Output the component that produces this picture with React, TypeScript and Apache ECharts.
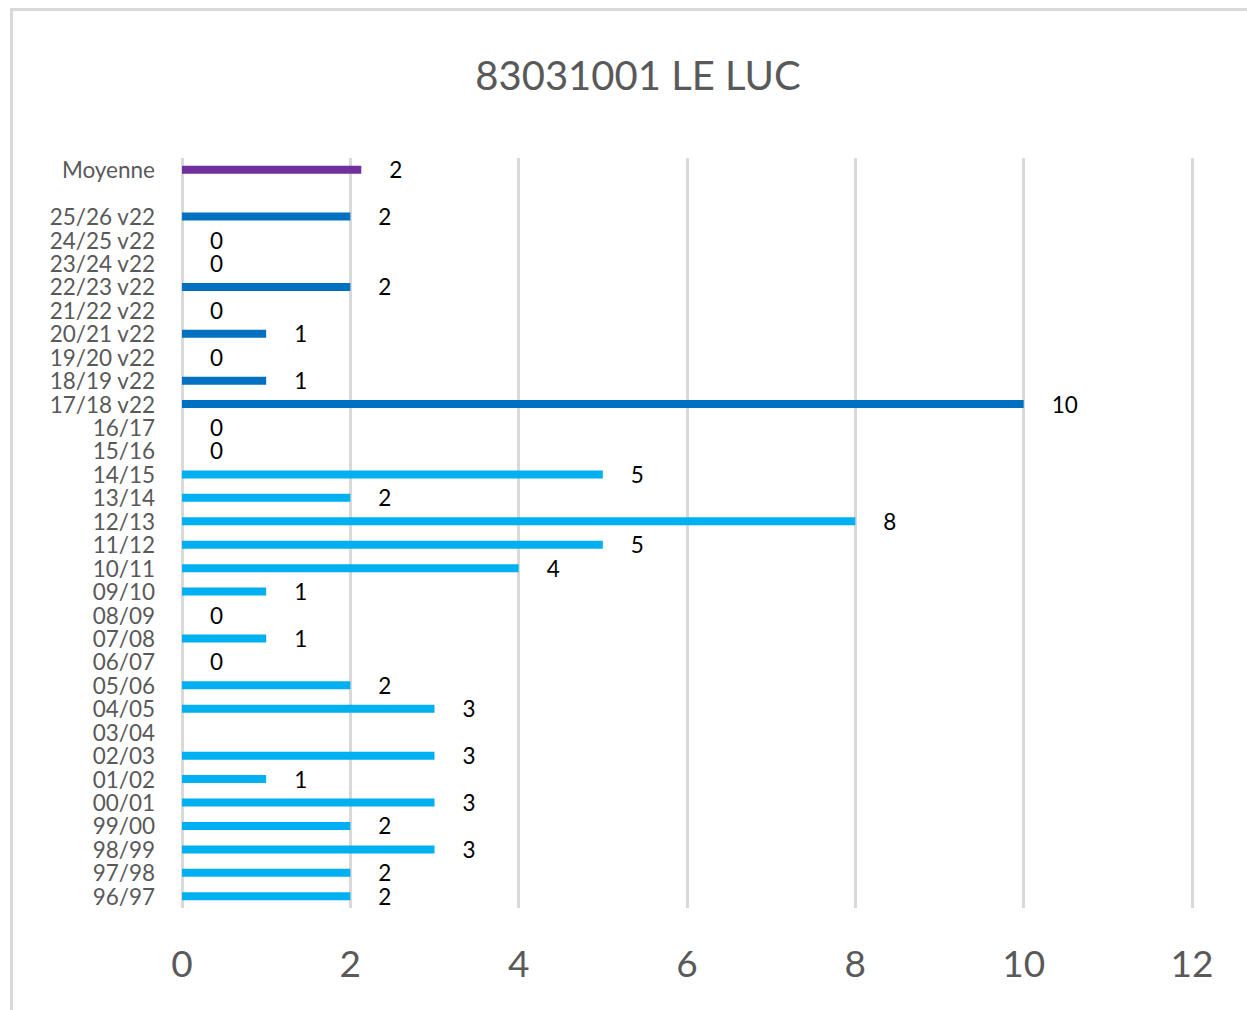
import React, { useEffect, useRef } from "react";
import * as echarts from "echarts";

const categories = [
  "96/97", "97/98", "98/99", "99/00", "00/01", "01/02", "02/03", "03/04", "04/05", "05/06",
  "06/07", "07/08", "08/09", "09/10", "10/11", "11/12", "12/13", "13/14", "14/15", "15/16",
  "16/17", "17/18 v22", "18/19 v22", "19/20 v22", "20/21 v22", "21/22 v22", "22/23 v22",
  "23/24 v22", "24/25 v22", "25/26 v22", "", "Moyenne",
];
const values: (number | null)[] = [
  2, 2, 3, 2, 3, 1, 3, null, 3, 2,
  0, 1, 0, 1, 4, 5, 8, 2, 5, 0,
  0, 10, 1, 0, 1, 0, 2, 0, 0, 2, null, 2.13,
];
// group of each bar: "old" seasons, "v22" seasons, "avg"
const groups = categories.map((c) => (c === "Moyenne" ? "avg" : c.includes("v22") ? "v22" : "old"));
const groupColors: Record<string, string> = { old: "#00b0f0", v22: "#0070c0", avg: "#7030a0" };
const xTicks = [0, 2, 4, 6, 8, 10, 12];

export default function App() {
  const ref = useRef<HTMLDivElement>(null);
  useEffect(() => {
    if (!ref.current) return;
    const chart = echarts.init(ref.current, null, { renderer: "svg" });
    const font = "Lato, 'Open Sans', sans-serif";
    chart.setOption({
      animation: false,
      backgroundColor: "#ffffff",
      title: {
        text: "83031001 LE LUC",
        left: 633,
        textAlign: "center",
        top: 50,
        textStyle: { fontFamily: font, fontSize: 40, fontWeight: "normal", color: "#595959" },
      },
      graphic: [
        {
          type: "rect",
          shape: { x: 11.5, y: 9.5, width: 1300, height: 1100 },
          style: { fill: "none", stroke: "#d9d9d9", lineWidth: 3 },
          silent: true,
        },
      ],
      grid: { left: 182, right: 55, top: 158, bottom: 102, containLabel: false },
      xAxis: {
        type: "value",
        min: xTicks[0],
        max: xTicks[xTicks.length - 1],
        interval: 2,
        axisLine: { show: false },
        axisTick: { show: false },
        splitLine: { show: true, lineStyle: { color: "#d9d9d9", width: 3 } },
        axisLabel: { fontFamily: font, fontSize: 37, color: "#595959", margin: 36 },
      },
      yAxis: {
        type: "category",
        data: categories,
        axisLine: { show: false },
        axisTick: { show: false },
        axisLabel: {
          fontFamily: font,
          fontSize: 22.5,
          color: "#595959",
          margin: 27,
          interval: 0,
          lineHeight: 22,
        },
      },
      series: [
        {
          type: "bar",
          barWidth: 8,
          data: values.map((v, i) => ({
            value: v === null ? "-" : v,
            itemStyle: { color: groupColors[groups[i]] },
          })),
          label: {
            show: true,
            position: "right",
            distance: 28,
            fontFamily: font,
            fontSize: 22.5,
            lineHeight: 22,
            color: "#000000",
            formatter: (p: any) => (typeof p.value === "number" ? String(Math.round(p.value)) : ""),
          },
        },
      ],
    });
    return () => chart.dispose();
  }, []);
  return (
    <div
      ref={ref}
      style={{ position: "fixed", left: 0, top: 0, width: 1247, height: 1010 }}
    />
  );
}
